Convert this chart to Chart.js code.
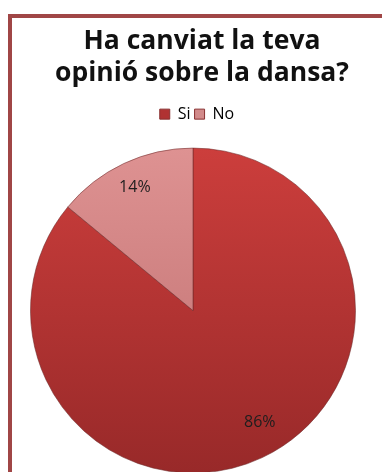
<!DOCTYPE html>
<html>
<head>
<meta charset="utf-8">
<script src="https://cdn.jsdelivr.net/npm/chart.js@4/dist/chart.umd.min.js"></script>
<style>
  html, body { margin: 0; padding: 0; background: #fff; overflow: hidden; width: 382px; height: 472px; }
  #frame { position: absolute; left: 8px; top: 14px; width: 420px; height: 520px;
           border: 4px solid #a04646; box-sizing: border-box; }
  #wrap { position: absolute; left: 0; top: 0; width: 382px; height: 500px; }
</style>
</head>
<body>
<div id="frame"></div>
<div id="wrap"><canvas id="c" width="382" height="494"></canvas></div>
<script>
const titleLines = ['Ha canviat la teva', 'opinió sobre la dansa?'];
const categories = ['Si', 'No'];
const values = [86, 14];
const percentLabels = ['86%', '14%'];

// top / bottom shades for each slice
const topColors = ['#cc3e3c', '#de9292'];
const bottomColors = ['#982929', '#bd6d6d'];
const legendColors = ['#b03232', '#d28a8a'];

function sliceFill(ctx) {
  const chart = ctx.chart;
  const area = chart.chartArea;
  if (!area || !isFinite(area.top)) return topColors[ctx.dataIndex];
  const cy = (area.top + area.bottom) / 2;
  const r = Math.min(area.right - area.left, area.bottom - area.top) / 2;
  if (!isFinite(cy) || !isFinite(r) || r <= 0) return topColors[ctx.dataIndex];
  const g = chart.ctx.createLinearGradient(0, cy - r, 0, cy + r);
  g.addColorStop(0, topColors[ctx.dataIndex]);
  g.addColorStop(1, bottomColors[ctx.dataIndex]);
  return g;
}

// Title and legend sit a little right of the pie's centre line
const headerShift = {
  id: 'headerShift',
  afterLayout(chart) {
    if (chart.titleBlock) { chart.titleBlock.left += 9; chart.titleBlock.right += 9; }
    if (chart.legend) { chart.legend.left += 4; chart.legend.right += 4; }
  }
};

// Percentage text inside each slice, placed along the slice's middle angle
const sliceLabels = {
  id: 'sliceLabels',
  afterDatasetsDraw(chart) {
    const c = chart.ctx;
    const meta = chart.getDatasetMeta(0);
    const factors = [0.8, 0.84];
    const turn = [-0.1, 0];
    c.save();
    c.font = '16px "Open Sans", "Liberation Sans", sans-serif';
    c.fillStyle = '#1e1e1e';
    c.textAlign = 'center';
    c.textBaseline = 'middle';
    meta.data.forEach((arc, i) => {
      const mid = (arc.startAngle + arc.endAngle) / 2 + turn[i];
      const rr = arc.outerRadius * factors[i];
      c.fillText(percentLabels[i], arc.x + Math.cos(mid) * rr, arc.y + Math.sin(mid) * rr);
    });
    c.restore();
  }
};

new Chart(document.getElementById('c'), {
  type: 'pie',
  data: {
    labels: categories,
    datasets: [{
      data: values,
      backgroundColor: sliceFill,
      borderColor: 'rgba(110,40,40,0.55)',
      borderWidth: 1
    }]
  },
  options: {
    responsive: false,
    animation: false,
    devicePixelRatio: 1,
    layout: { padding: { top: 25, left: 30, right: 26, bottom: 5 } },
    plugins: {
      title: {
        display: true,
        text: titleLines,
        color: '#111',
        font: { family: '"Open Sans", "Liberation Sans", sans-serif', size: 26.5, weight: 'bold', lineHeight: 1.21 },
        padding: { top: 0, bottom: 13 }
      },
      legend: {
        display: true,
        position: 'top',
        labels: {
          color: '#222',
          font: { family: '"Open Sans", "Liberation Sans", sans-serif', size: 16 },
          boxWidth: 10,
          boxHeight: 10,
          padding: 4,
          generateLabels(chart) {
            return categories.map((name, i) => ({
              text: name,
              fillStyle: legendColors[i],
              strokeStyle: '#8a3030',
              lineWidth: 1,
              index: i,
              hidden: false
            }));
          }
        }
      },
      tooltip: { enabled: false }
    }
  },
  plugins: [headerShift, sliceLabels]
});
</script>
</body>
</html>
